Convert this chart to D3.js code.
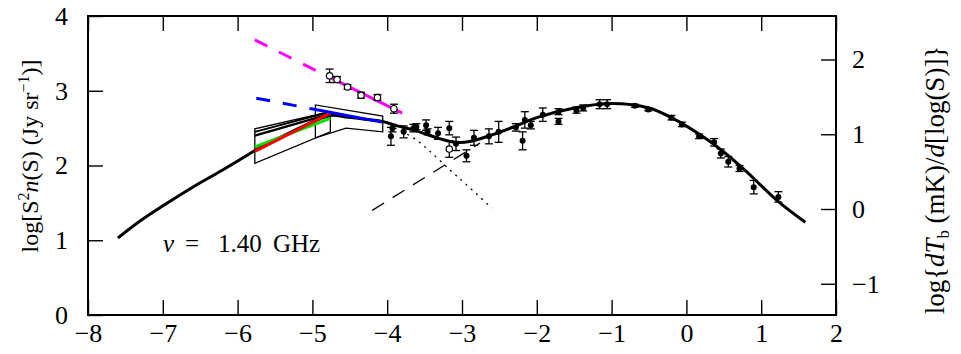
<!DOCTYPE html>
<html>
<head>
<meta charset="utf-8">
<script src="https://cdn.jsdelivr.net/npm/d3@7"></script>
<style>
  html, body { margin: 0; padding: 0; background: #fff; }
  svg { display: block; }
  text { font-family: "Liberation Serif", "DejaVu Serif", serif; fill: #000; }
</style>
</head>
<body>
<svg id="chart" width="961" height="354"></svg>
<script>
// Differential source counts at 1.40 GHz: log[S^2 n(S)] versus log(S)
const xTickValues = [-8, -7, -6, -5, -4, -3, -2, -1, 0, 1, 2];
const yTickValues = [0, 1, 2, 3, 4];
const yRightTickValues = [-1, 0, 1, 2];
const rightOffset = 1.418;   // log dT_b = log[S^2 n(S)] - offset

// Fitted count model
const modelX = [-7.6, -7.3, -7.0, -6.6, -6.2, -5.9, -5.77, -5.3, -4.76, -4.56, -4.3, -4.07, -3.9, -3.6, -3.3, -3.08, -2.9, -2.6, -2.3, -2.0, -1.5, -1.0, -0.5, -0.2, 0.2, 0.5, 0.8, 1.0, 1.25, 1.59];
const modelY = [1.03, 1.26, 1.46, 1.71, 1.94, 2.12, 2.2, 2.44, 2.67, 2.65, 2.62, 2.59, 2.54, 2.46, 2.36, 2.31, 2.32, 2.41, 2.52, 2.64, 2.77, 2.83, 2.77, 2.64, 2.4, 2.18, 1.92, 1.73, 1.5, 1.24];

// Two source-population components
const dottedX = [-3.9, -3.65, -3.43, -3.16, -2.96, -2.6];
const dottedY = [2.5, 2.37, 2.19, 1.94, 1.76, 1.43];
const dashedX = [-4.2, -2.76];
const dashedY = [1.4, 2.3];

// Measured counts (filled) with errors
const ptsX = [-3.95, -3.93, -3.78, -3.65, -3.61, -3.48, -3.46, -3.32, -3.17, -3.08, -2.94, -2.84, -2.64, -2.51, -2.28, -2.19, -2.16, -2.08, -1.92, -1.71, -1.71, -1.47, -1.38, -1.16, -1.06, -0.69, -0.51, -0.2, -0.06, 0.17, 0.37, 0.46, 0.56, 0.71, 0.9, 1.23];
const ptsY = [2.39, 2.5, 2.45, 2.5, 2.52, 2.54, 2.45, 2.43, 2.5, 2.29, 2.13, 2.37, 2.39, 2.45, 2.51, 2.33, 2.61, 2.54, 2.68, 2.72, 2.59, 2.74, 2.77, 2.82, 2.82, 2.8, 2.75, 2.64, 2.55, 2.39, 2.31, 2.16, 2.05, 1.96, 1.71, 1.58];
const ptsErr = [0.12, 0.05, 0.08, 0.05, 0.04, 0.07, 0.04, 0.08, 0.09, 0.09, 0.08, 0.1, 0.1, 0.14, 0.05, 0.12, 0.11, 0.05, 0.09, 0.04, 0.04, 0.04, 0.04, 0.06, 0.06, 0.02, 0.02, 0.03, 0.03, 0.03, 0.05, 0.06, 0.07, 0.04, 0.09, 0.07];

// P(D) / fluctuation points (open)
const openX = [-4.77, -4.67, -4.53, -4.35, -4.13, -3.91, -3.17];
const openY = [3.2, 3.15, 3.05, 2.94, 2.91, 2.76, 2.22];
const openErr = [0.09, 0.04, 0.03, 0.04, 0.04, 0.06, 0.11];

// Power-law fits: dashed extrapolation then solid over the fitted range
const magentaX = [-5.77, -4.8, -3.8];
const magentaY = [3.68, 3.195, 2.7];
const blueX = [-5.75, -5.03, -4.07];
const blueY = [2.9, 2.763, 2.58];

// Model slopes within the first envelope
const redX = [-5.77, -4.76];   const redY = [2.19, 2.7];
const greenX = [-5.77, -4.76]; const greenY = [2.25, 2.63];
const blackAX = [-5.77, -4.76]; const blackAY = [2.45, 2.72];
const blackBX = [-5.77, -4.76]; const blackBY = [2.4, 2.69];

// Envelope outlines
const envAX = [-5.77, -5.77, -4.76, -4.76];
const envAY = [2.03, 2.49, 2.72, 2.45];
const envBX = [-4.96, -4.96, -4.06, -4.06, -4.55];
const envBY = [2.37, 2.81, 2.66, 2.45, 2.5];

const svg = d3.select("#chart");
const L = 88, R = 836, T = 16, B = 315;
const x = d3.scaleLinear().domain([-8, 2]).range([L, R]);
const y = d3.scaleLinear().domain([0, 4]).range([B, T]);
const y2 = d3.scaleLinear().domain([-rightOffset, 4 - rightOffset]).range([B, T]);

const zip = (xs, ys) => xs.map((v, i) => [v, ys[i]]);
const line = d3.line().x(d => x(d[0])).y(d => y(d[1]));
const smooth = d3.line().x(d => x(d[0])).y(d => y(d[1])).curve(d3.curveCatmullRom.alpha(0.5));

const tickLen = 15;
const fmt = d3.format("d");
// Axes with inward ticks
const axB = d3.axisBottom(x).tickValues(xTickValues).tickSize(-tickLen).tickPadding(9).tickFormat(fmt);
const axT = d3.axisTop(x).tickValues(xTickValues).tickSize(-tickLen).tickFormat("");
const axL = d3.axisLeft(y).tickValues(yTickValues).tickSize(-tickLen).tickPadding(20).tickFormat(fmt);
const axR = d3.axisRight(y2).tickValues(yRightTickValues).tickSize(-tickLen).tickPadding(16).tickFormat(fmt);

function styleAxis(g) {
  g.select(".domain").remove();
  g.selectAll(".tick line").attr("stroke", "#000").attr("stroke-width", 1.4);
  g.selectAll(".tick text").attr("font-size", 26).attr("font-family", "Liberation Serif, serif");
}
svg.append("g").attr("transform", `translate(0,${B})`).call(axB).call(styleAxis);
svg.append("g").attr("transform", `translate(0,${T})`).call(axT).call(styleAxis);
svg.append("g").attr("transform", `translate(${L},0)`).call(axL).call(styleAxis);
svg.append("g").attr("transform", `translate(${R},0)`).call(axR).call(styleAxis);

svg.append("rect").attr("x", L).attr("y", T).attr("width", R - L).attr("height", B - T)
  .attr("fill", "none").attr("stroke", "#000").attr("stroke-width", 2);

// Envelopes
[[envAX, envAY], [envBX, envBY]].forEach(([xs, ys]) => {
  svg.append("path").attr("d", line(zip(xs, ys)) + "Z")
    .attr("fill", "none").attr("stroke", "#000").attr("stroke-width", 1.3);
});

// Component curves
svg.append("path").attr("d", smooth(zip(dottedX, dottedY)))
  .attr("fill", "none").attr("stroke", "#000").attr("stroke-width", 1.3).attr("stroke-dasharray", "2 5");
svg.append("path").attr("d", line(zip(dashedX, dashedY)))
  .attr("fill", "none").attr("stroke", "#000").attr("stroke-width", 1.3).attr("stroke-dasharray", "14 10");

// Full model
svg.append("path").attr("d", smooth(zip(modelX, modelY)))
  .attr("fill", "none").attr("stroke", "#000").attr("stroke-width", 3);

svg.append("path").attr("d", line(zip(blackAX, blackAY))).attr("fill", "none").attr("stroke", "#000").attr("stroke-width", 2);
svg.append("path").attr("d", line(zip(blackBX, blackBY))).attr("fill", "none").attr("stroke", "#000").attr("stroke-width", 2.5);
svg.append("path").attr("d", line(zip(greenX, greenY))).attr("fill", "none").attr("stroke", "#00dd00").attr("stroke-width", 3);
svg.append("path").attr("d", line(zip(redX, redY))).attr("fill", "none").attr("stroke", "#ff0000").attr("stroke-width", 3);

// Power-law fits
function fit(xs, ys, color) {
  const pts = zip(xs, ys);
  svg.append("path").attr("d", line(pts.slice(0, 2))).attr("fill", "none")
    .attr("stroke", color).attr("stroke-width", 3).attr("stroke-dasharray", "14 13");
  svg.append("path").attr("d", line(pts.slice(1))).attr("fill", "none")
    .attr("stroke", color).attr("stroke-width", 3);
}
fit(blueX, blueY, "#0000ff");
fit(magentaX, magentaY, "#ff00ff");

// Error bars
function errorBars(xs, ys, es) {
  const g = svg.append("g").attr("stroke", "#000").attr("stroke-width", 1.3);
  xs.forEach((v, i) => {
    const cx = x(v), y0 = y(ys[i] - es[i]), y1 = y(ys[i] + es[i]);
    g.append("line").attr("x1", cx).attr("x2", cx).attr("y1", y0).attr("y2", y1);
    g.append("line").attr("x1", cx - 4).attr("x2", cx + 4).attr("y1", y0).attr("y2", y0);
    g.append("line").attr("x1", cx - 4).attr("x2", cx + 4).attr("y1", y1).attr("y2", y1);
  });
}
errorBars(ptsX, ptsY, ptsErr);
errorBars(openX, openY, openErr);

svg.append("g").selectAll("circle").data(zip(ptsX, ptsY)).join("circle")
  .attr("cx", d => x(d[0])).attr("cy", d => y(d[1])).attr("r", 3).attr("fill", "#000");
svg.append("g").selectAll("circle").data(zip(openX, openY)).join("circle")
  .attr("cx", d => x(d[0])).attr("cy", d => y(d[1])).attr("r", 3.2)
  .attr("fill", "#fff").attr("stroke", "#000").attr("stroke-width", 1.2);

// Frequency label, spaced as a math-mode equation
const lab = svg.append("text").attr("y", 252).attr("font-size", 25);
lab.append("tspan").attr("x", 163).attr("font-style", "italic").text("ν");
lab.append("tspan").attr("x", 185).text("=");
lab.append("tspan").attr("x", 218).text("1.40");
lab.append("tspan").attr("x", 273).text("GHz");

// Left axis title
const tl = svg.append("text").attr("transform", "translate(38,156) rotate(-90)")
  .attr("text-anchor", "middle").attr("font-size", 24);
tl.append("tspan").text("log[");
tl.append("tspan").text("S");
tl.append("tspan").attr("font-size", 16).attr("dy", -9).text("2");
tl.append("tspan").attr("dy", 9).attr("font-style", "italic").text("n");
tl.append("tspan").text("(S) (Jy sr");
tl.append("tspan").attr("font-size", 16).attr("dy", -9).text("−1");
tl.append("tspan").attr("dy", 9).text(")]");

// Right axis title
const tr = svg.append("text").attr("transform", "translate(944,180) rotate(-90)")
  .attr("text-anchor", "middle").attr("font-size", 27);
tr.append("tspan").text("log{");
tr.append("tspan").attr("font-style", "italic").text("dT");
tr.append("tspan").attr("font-size", 16).attr("dy", 5).text("b");
tr.append("tspan").attr("dy", -5).text(" (mK)/");
tr.append("tspan").attr("font-style", "italic").text("d");
tr.append("tspan").text("[log(S)]}");
</script>
</body>
</html>
